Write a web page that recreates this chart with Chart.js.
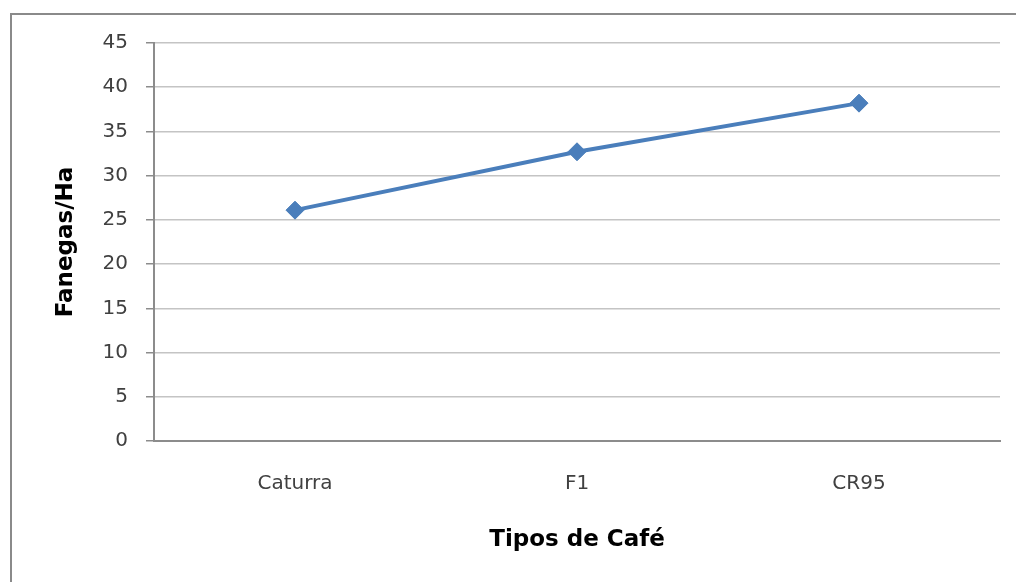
<!DOCTYPE html>
<html>
<head>
<meta charset="utf-8">
<script src="https://cdn.jsdelivr.net/npm/chart.js@4/dist/chart.umd.min.js"></script>
<style>
  html, body { margin: 0; padding: 0; background: #fff; }
  #wrap { position: relative; width: 1016px; height: 582px; }
</style>
</head>
<body>
<div id="wrap"><canvas id="c" width="1016" height="582"></canvas></div>
<script>
const categories = ['Caturra', 'F1', 'CR95'];
const fanegasValues = [26.1, 32.7, 38.2];
const yTicks = [0, 5, 10, 15, 20, 25, 30, 35, 40, 45];
const yTitle = 'Fanegas/Ha';
const xTitle = 'Tipos de Café';

const frame = {
  id: 'frame',
  beforeDraw(chart) {
    const ctx = chart.ctx;
    ctx.save();
    ctx.fillStyle = '#fff';
    ctx.fillRect(0, 0, chart.width, chart.height);
    ctx.strokeStyle = '#8a8a8a';
    ctx.lineWidth = 2;
    ctx.beginPath();
    ctx.moveTo(11, 600);
    ctx.lineTo(11, 14);
    ctx.lineTo(1030, 14);
    ctx.stroke();
    ctx.restore();
  }
};

const FONT = "'DejaVu Sans', sans-serif";

new Chart(document.getElementById('c'), {
  type: 'line',
  data: {
    labels: categories,
    datasets: [{
      data: fanegasValues,
      borderColor: '#4a7ebb',
      backgroundColor: '#4a7ebb',
      borderWidth: 4,
      pointStyle: 'rectRot',
      pointRadius: 9,
      pointHoverRadius: 9,
      pointBorderWidth: 1,
      tension: 0,
      fill: false
    }]
  },
  options: {
    responsive: false,
    animation: false,
    events: [],
    layout: { padding: { left: 0, top: 43, right: 16, bottom: 0 } },
    plugins: { legend: { display: false }, tooltip: { enabled: false } },
    scales: {
      x: {
        type: 'category',
        offset: true,
        grid: { display: false, drawTicks: false },
        border: { display: true, color: '#8c8c8c', width: 2 },
        ticks: { color: '#404040', font: { family: FONT, size: 20 }, padding: 31, maxRotation: 0 },
        title: { display: true, text: xTitle, color: '#000', font: { family: FONT, size: 23, weight: 'bold' }, padding: { top: 0, bottom: 28 } },
        afterFit(s) { s.height = 141; }
      },
      y: {
        min: 0, max: 45,
        afterBuildTicks(s) { s.ticks = yTicks.map(v => ({ value: v })); },
        grid: { color: '#c4c4c4', lineWidth: 1.5, tickLength: 8, tickColor: '#8c8c8c' },
        border: { display: true, color: '#8c8c8c', width: 2 },
        ticks: { color: '#404040', font: { family: FONT, size: 20 }, padding: 18 },
        title: { display: true, text: yTitle, color: '#000', font: { family: FONT, size: 23, weight: 'bold' }, padding: { top: 52, bottom: 0 } },
        afterFit(s) { s.width = 154; }
      }
    }
  },
  plugins: [frame]
});
</script>
</body>
</html>
